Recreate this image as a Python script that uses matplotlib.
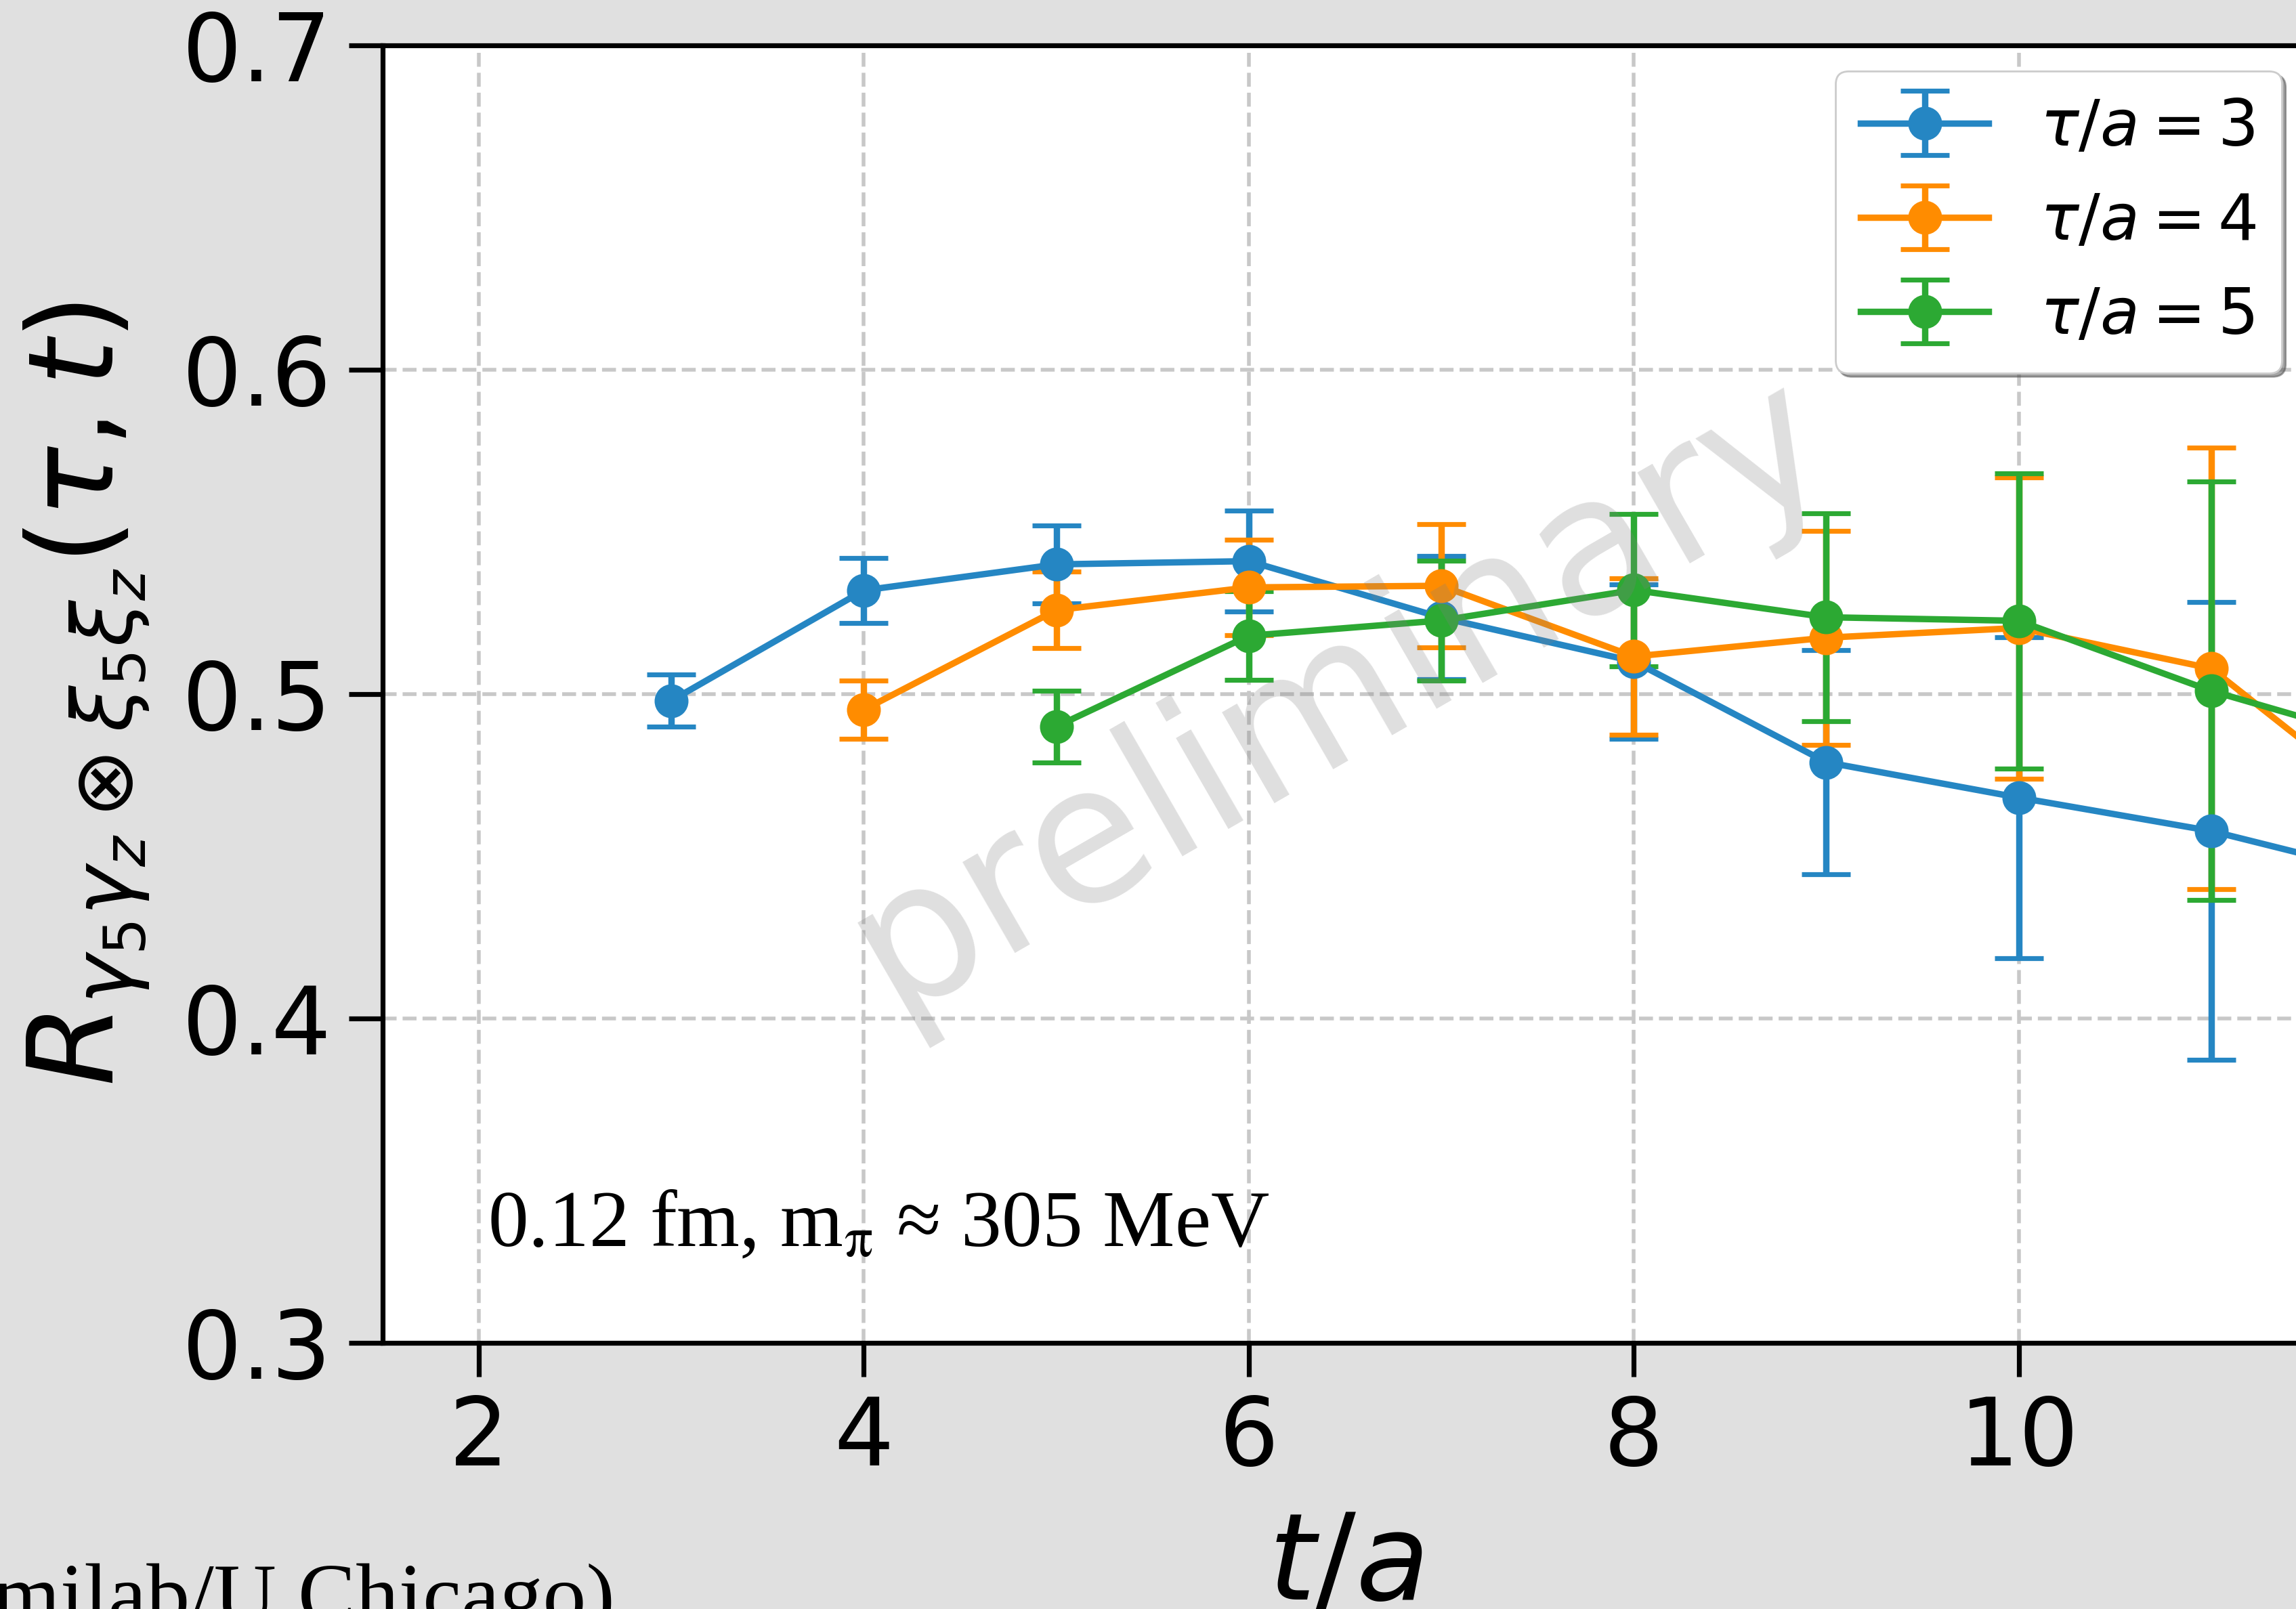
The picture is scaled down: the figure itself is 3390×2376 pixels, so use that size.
import matplotlib
matplotlib.use('Agg')
import matplotlib.pyplot as plt
import numpy as np

# ── data ──────────────────────────────────────────────────────────────────
t_tau3 = [3, 4, 5, 6, 7, 8, 9, 10, 11, 12]
r_tau3 = [0.498, 0.532, 0.540, 0.541, 0.5236, 0.5101, 0.479, 0.4681, 0.4578, 0.443]
e_tau3 = [0.008, 0.010, 0.012, 0.0155, 0.019, 0.0238, 0.0345, 0.0495, 0.0706, 0.09]

t_tau4 = [4, 5, 6, 7, 8, 9, 10, 11, 12]
r_tau4 = [0.4952, 0.5259, 0.5329, 0.5334, 0.5116, 0.5174, 0.5204, 0.5079, 0.461]
e_tau4 = [0.009, 0.0118, 0.0147, 0.019, 0.0242, 0.033, 0.0465, 0.068, 0.09]

t_tau5 = [5, 6, 7, 8, 9, 10, 11, 12]
r_tau5 = [0.490, 0.518, 0.5227, 0.5321, 0.5237, 0.5226, 0.501, 0.4838]
e_tau5 = [0.011, 0.0137, 0.0185, 0.0235, 0.032, 0.0455, 0.0645, 0.09]

series = [
    (t_tau3, r_tau3, e_tau3, '#2586c3', r'$\tau/a = 3$'),
    (t_tau4, r_tau4, e_tau4, '#ff8c00', r'$\tau/a = 4$'),
    (t_tau5, r_tau5, e_tau5, '#2ca933', r'$\tau/a = 5$'),
]

x_ticks = [2, 4, 6, 8, 10]
y_ticks = [0.3, 0.4, 0.5, 0.6, 0.7]

# ── figure (slide crop: axes runs slightly past the right edge) ─────────
W, H, DPI = 3391, 2376, 200
fig = plt.figure(figsize=(W / DPI, H / DPI), dpi=DPI, facecolor='#e0e0e0')
ax = fig.add_axes([565 / W, (H - 1983) / H, 2842 / W, 1916 / H])
ax.set_facecolor('white')

for t, r, e, col, lab in series:
    ax.errorbar(t, r, yerr=e, color=col, marker='o', markersize=17,
                linewidth=3.4, elinewidth=3.4, capsize=13, capthick=2.6,
                label=lab)

ax.set_xlim(1.5, 11.5)
ax.set_ylim(0.3, 0.7)
ax.set_xticks(x_ticks)
ax.set_yticks(y_ticks)
ax.grid(True, linestyle='--', linewidth=2, color='#c8c8c8')

for sp in ax.spines.values():
    sp.set_linewidth(2.6)
ax.tick_params(labelsize=50, length=18, width=2.6, pad=9)

ax.set_xlabel(r'$t/a$', fontsize=64, labelpad=12)
ax.set_ylabel(r'$R_{\gamma_5\gamma_z\otimes\xi_5\xi_z}(\tau,t)$',
              fontsize=63, labelpad=16)

ax.legend(loc='upper right', fontsize=34, shadow=True, fancybox=True,
          framealpha=1, borderaxespad=0.4)

# watermark
ax.text(6.47, 0.500, 'preliminary', fontsize=102, rotation=30,
        color='gray', alpha=0.25, ha='center', va='center', zorder=10)

# ensemble note
ax.text(0.0545, 0.0746, r'0.12 fm, m$_{\mathrm{\pi}}$ ≈ 305 MeV',
        transform=ax.transAxes, fontsize=43, family='Liberation Serif',
        math_fontfamily='stix', ha='left', va='baseline')

# slide credit, cut by the crop
fig.text(908 / W, -0.009, '(Fermilab/U Chicago)', fontsize=46,
         family='Liberation Serif', ha='right', va='baseline')

fig.savefig('out.png', dpi=DPI, facecolor=fig.get_facecolor())
